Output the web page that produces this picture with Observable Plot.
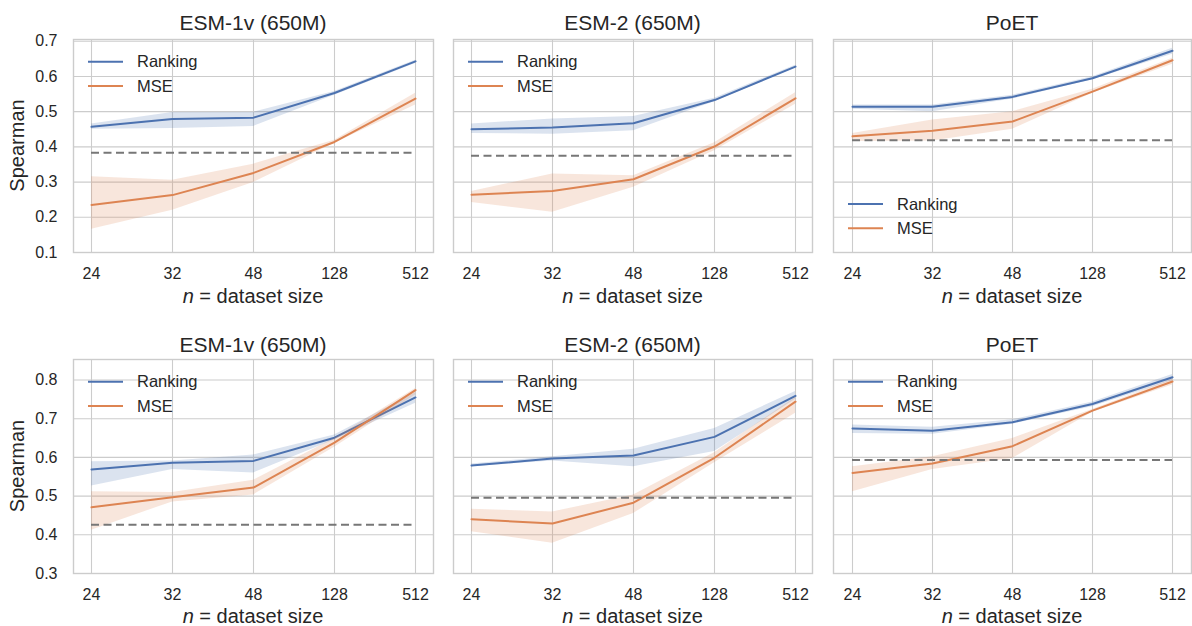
<!DOCTYPE html>
<html>
<head>
<meta charset="utf-8">
<script src="https://cdn.jsdelivr.net/npm/d3@7"></script>
<script src="https://cdn.jsdelivr.net/npm/@observablehq/plot@0.6"></script>
<style>
  html, body { margin: 0; padding: 0; background: #ffffff; }
  #chart { position: relative; width: 1192px; height: 626px; overflow: hidden; background: #fff; }
  #chart > svg { position: absolute; }
</style>
</head>
<body>
<div id="chart"></div>
<script>
// ---------------- data ----------------
const sizes = ["24", "32", "48", "128", "512"];
const models = ["ESM-1v (650M)", "ESM-2 (650M)", "PoET"];
const series = ["Ranking", "MSE"];
const yTicksTop = [0.1, 0.2, 0.3, 0.4, 0.5, 0.6, 0.7];
const yTicksBottom = [0.3, 0.4, 0.5, 0.6, 0.7, 0.8];

// top row (one array per model: ESM-1v, ESM-2, PoET)
const rankingTop   = [[0.457, 0.479, 0.483, 0.553, 0.643], [0.450, 0.455, 0.467, 0.533, 0.628], [0.514, 0.514, 0.542, 0.595, 0.673]];
const rankingTopLo = [[0.450, 0.452, 0.458, 0.547, 0.637], [0.438, 0.436, 0.446, 0.528, 0.625], [0.507, 0.500, 0.536, 0.591, 0.663]];
const rankingTopHi = [[0.465, 0.498, 0.498, 0.557, 0.646], [0.465, 0.479, 0.486, 0.538, 0.632], [0.519, 0.519, 0.547, 0.599, 0.680]];
const mseTop       = [[0.235, 0.263, 0.326, 0.414, 0.537], [0.264, 0.275, 0.308, 0.401, 0.538], [0.430, 0.446, 0.472, 0.557, 0.646]];
const mseTopLo     = [[0.166, 0.220, 0.299, 0.410, 0.519], [0.242, 0.214, 0.285, 0.389, 0.521], [0.415, 0.417, 0.450, 0.552, 0.635]];
const mseTopHi     = [[0.315, 0.305, 0.351, 0.419, 0.552], [0.273, 0.323, 0.318, 0.412, 0.554], [0.438, 0.476, 0.500, 0.564, 0.652]];
const baselineTop  = [0.383, 0.375, 0.419];

// bottom row
const rankingBottom   = [[0.569, 0.586, 0.591, 0.651, 0.755], [0.579, 0.597, 0.605, 0.653, 0.759], [0.675, 0.669, 0.691, 0.738, 0.807]];
const rankingBottomLo = [[0.526, 0.569, 0.560, 0.645, 0.740], [0.576, 0.591, 0.576, 0.615, 0.750], [0.662, 0.660, 0.686, 0.731, 0.798]];
const rankingBottomHi = [[0.589, 0.591, 0.606, 0.658, 0.767], [0.583, 0.602, 0.621, 0.675, 0.770], [0.684, 0.678, 0.697, 0.743, 0.814]];
const mseBottom       = [[0.471, 0.497, 0.522, 0.638, 0.774], [0.440, 0.429, 0.483, 0.599, 0.744], [0.560, 0.584, 0.629, 0.721, 0.796]];
const mseBottomLo     = [[0.412, 0.485, 0.503, 0.626, 0.761], [0.408, 0.378, 0.455, 0.586, 0.714], [0.511, 0.569, 0.597, 0.717, 0.787]];
const mseBottomHi     = [[0.511, 0.509, 0.541, 0.649, 0.778], [0.466, 0.459, 0.503, 0.612, 0.755], [0.576, 0.602, 0.649, 0.724, 0.802]];
const baselineBottom  = [0.426, 0.496, 0.593];

// ---------------- style / layout ----------------
const colors = {Ranking: "#4c72b0", MSE: "#dd8452"};
const FONT = "'Liberation Sans', Arial, Helvetica, sans-serif";
const TEXT = "#262626";
const GRID = "#cccccc";

const rows = [
  {top: 0, height: 310, mt: 39, mb: 58, domain: [0.1, 0.705], ticks: yTicksTop,
   rank: rankingTop, rankLo: rankingTopLo, rankHi: rankingTopHi,
   mse: mseTop, mseLo: mseTopLo, mseHi: mseTopHi, base: baselineTop,
   titleY: 30, xlabelY: 303, legendY: [61.7, 61.7, 204]},
  {top: 310, height: 316, mt: 49, mb: 53, domain: [0.3, 0.853], ticks: yTicksBottom,
   rank: rankingBottom, rankLo: rankingBottomLo, rankHi: rankingBottomHi,
   mse: mseBottom, mseLo: mseBottomLo, mseHi: mseBottomHi, base: baselineBottom,
   titleY: 351.5, xlabelY: 623, legendY: [381.7, 381.7, 381.7]}
];
const cols = [
  {left: 0, width: 440, ml: 73, mr: 7},
  {left: 440, width: 380, ml: 13, mr: 8},
  {left: 820, width: 372, ml: 13, mr: 1}
];

const chart = document.getElementById("chart");

rows.forEach((row, ri) => {
  cols.forEach((col, ci) => {
    const table = [];
    sizes.forEach((n, i) => {
      table.push({n, series: "Ranking", y: row.rank[ci][i], lo: row.rankLo[ci][i], hi: row.rankHi[ci][i]});
    });
    sizes.forEach((n, i) => {
      table.push({n, series: "MSE", y: row.mse[ci][i], lo: row.mseLo[ci][i], hi: row.mseHi[ci][i]});
    });
    const baseRows = [{y: row.base[ci], from: sizes[0], to: sizes[sizes.length - 1]}];
    const marks = [
      Plot.gridX(sizes, {stroke: GRID, strokeOpacity: 1, strokeWidth: 1.1}),
      Plot.gridY(row.ticks, {stroke: GRID, strokeOpacity: 1, strokeWidth: 1.1}),
      Plot.frame({stroke: GRID, strokeWidth: 1.4}),
      Plot.axisX(sizes, {tickSize: 0, tickPadding: 15, fontSize: 16, label: null, fill: TEXT})
    ];
    if (ci === 0) {
      marks.push(Plot.axisY(row.ticks, {tickSize: 0, tickPadding: 16, fontSize: 16, label: null, fill: TEXT,
        tickFormat: d3.format(".1f")}));
    }
    series.forEach(s => {
      const d = table.filter(t => t.series === s);
      marks.push(Plot.areaY(d, {x: "n", y1: "lo", y2: "hi", fill: colors[s], fillOpacity: 0.2, curve: "linear"}));
      marks.push(Plot.line(d, {x: "n", y: "y", stroke: colors[s], strokeWidth: 2, curve: "linear"}));
    });
    marks.push(Plot.ruleY(baseRows, {y: "y", x1: "from", x2: "to",
      stroke: "#777777", strokeWidth: 2, strokeDasharray: "8,4.5"}));

    const svg = Plot.plot({
      width: col.width,
      height: row.height,
      marginLeft: col.ml,
      marginRight: col.mr,
      marginTop: row.mt,
      marginBottom: row.mb,
      x: {type: "point", domain: sizes, padding: 0.215, axis: null},
      y: {domain: row.domain, axis: null},
      style: {fontFamily: FONT, fontSize: "16px", color: TEXT, background: "transparent", overflow: "visible"},
      marks
    });
    svg.style.left = col.left + "px";
    svg.style.top = row.top + "px";
    chart.appendChild(svg);
  });
});

// ---------------- text overlay: titles, axis labels, legends ----------------
const W = 1192, H = 626;
const ov = d3.select(chart).append("svg")
  .attr("width", W).attr("height", H)
  .style("left", "0px").style("top", "0px")
  .style("pointer-events", "none")
  .style("font-family", FONT);

rows.forEach((row, ri) => {
  const frameTop = row.top + row.mt;
  const frameBottom = row.top + row.height - row.mb;
  cols.forEach((col, ci) => {
    const fl = col.left + col.ml;
    const fr = col.left + col.width - col.mr;
    const cx = (fl + fr) / 2;
    // title
    ov.append("text").attr("x", cx).attr("y", row.titleY)
      .attr("text-anchor", "middle").attr("font-size", 21).attr("fill", TEXT)
      .text(models[ci]);
    // x label
    const xl = ov.append("text").attr("x", cx).attr("y", row.xlabelY)
      .attr("text-anchor", "middle").attr("font-size", 20).attr("fill", TEXT);
    xl.append("tspan").attr("font-style", "italic").text("n");
    xl.append("tspan").text(" = dataset size");
    // legend
    const ly = row.legendY[ci];
    series.forEach((s, si) => {
      const y = ly + si * 24.3;
      ov.append("line").attr("x1", fl + 15).attr("x2", fl + 50).attr("y1", y).attr("y2", y)
        .attr("stroke", colors[s]).attr("stroke-width", 2);
      ov.append("text").attr("x", fl + 64).attr("y", y + 5.6)
        .attr("font-size", 16.5).attr("fill", TEXT).text(s);
    });
  });
  // y label
  const cy = (frameTop + frameBottom) / 2;
  ov.append("text").attr("transform", `translate(24,${cy}) rotate(-90)`)
    .attr("text-anchor", "middle").attr("font-size", 20).attr("fill", TEXT)
    .text("Spearman");
});
</script>
</body>
</html>
